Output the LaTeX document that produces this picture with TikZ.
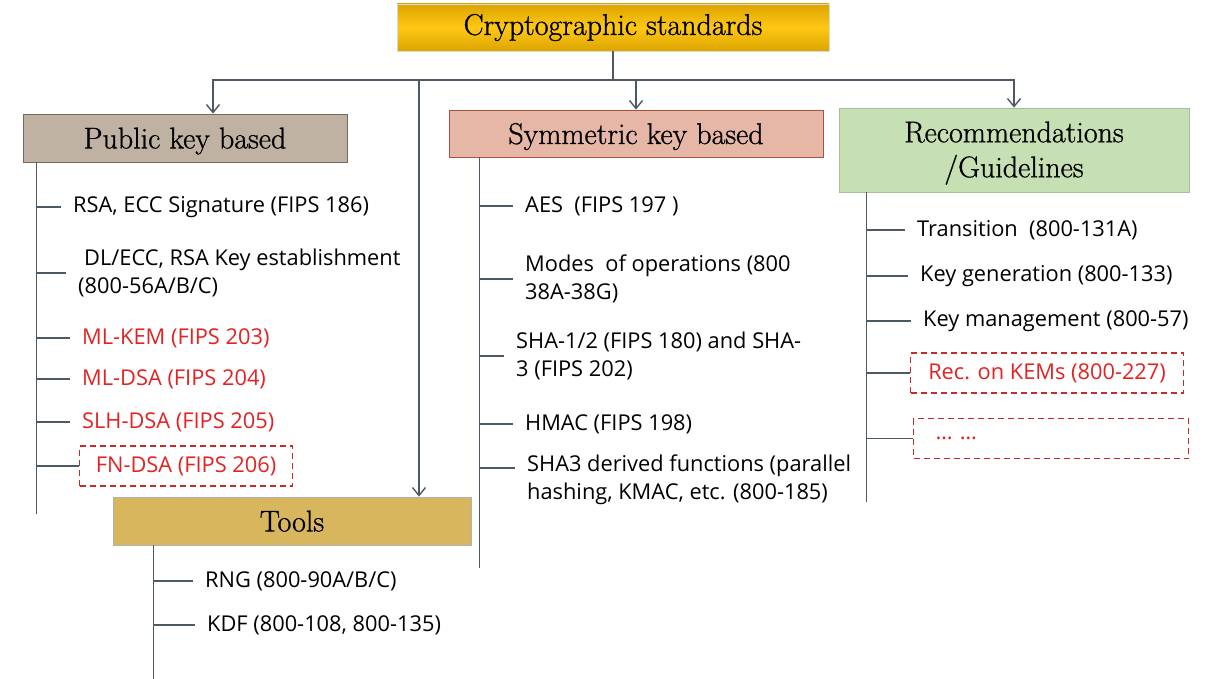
\documentclass[tikz,border=0pt]{standalone}
\usepackage{fontspec}
\newfontfamily\itemfont{Open Sans}
\newfontfamily\headfont{Latin Modern Roman}[FakeBold=0.9]
\usetikzlibrary{arrows.meta}

\definecolor{linegray}{HTML}{4D5A66}
\definecolor{gold}{HTML}{FFC814}
\definecolor{golddark}{HTML}{DCA400}
\definecolor{taupe}{HTML}{BFB2A2}
\definecolor{taupeline}{HTML}{76685A}
\definecolor{salmon}{HTML}{E6B7A7}
\definecolor{salmonline}{HTML}{A9503F}
\definecolor{sage}{HTML}{C6E0B3}
\definecolor{mustard}{HTML}{D8B65E}
\definecolor{itemred}{HTML}{E32222}
\definecolor{dashred}{HTML}{C42B2B}

\tikzset{
  catbox/.style={draw, line width=0.8pt, inner sep=0pt, align=center,
    font=\headfont\fontsize{30}{35}\selectfont},
  entry/.style={anchor=west, inner sep=0pt, align=left,
    font=\itemfont\fontsize{21.8}{27.5}\selectfont},
  newentry/.style={entry, text=itemred},
  dashbox/.style={newentry, draw=dashred, line width=1.1pt,
    dash pattern=on 6pt off 4pt, minimum height=40pt},
  link/.style={draw=linegray, line width=1.4pt},
  twig/.style={link, shorten >=12pt},
  branch/.style={link, -{Straight Barb[length=8pt,width=13pt]}},
}

\begin{document}
\begin{tikzpicture}[x=1pt,y=-1pt]
    \useasboundingbox (0,0) rectangle (1215,679);

    % category boxes
    \node[catbox, draw=black!15, top color=golddark, bottom color=golddark, middle color=gold,
          minimum width=432pt, minimum height=47pt] (top) at (613,27.5) {Cryptographic standards};
    \node[catbox, fill=taupe, draw=taupeline, text depth=0pt, minimum width=324pt, minimum height=48pt] (pub) at (185,138) {Public key based};
    \node[catbox, fill=salmon, draw=salmonline, text depth=0pt, minimum width=374pt, minimum height=47pt] (sym) at (636,133.5) {Symmetric key based};
    \node[catbox, fill=sage, draw=sage!85!black, minimum width=350pt, minimum height=84pt] (rec) at (1014,150) {\rule{0pt}{27pt}Recommendations\\/Guidelines};
    \node[catbox, fill=mustard, draw=black!30, text depth=0pt, minimum width=358pt, minimum height=48pt] (tools) at (292,521) {Tools};

    % top level branches
    \coordinate (split) at (613,80);
    \draw[link] (top.south) -- (split);
    \draw[branch] (split) -| ([xshift=28pt]pub.north);
    \draw[branch] (split) -| (sym.north);
    \draw[branch] (split) -| (rec.north);
    \draw[branch] (split) -| ([xshift=127pt]tools.north);

    % public key based
    \coordinate (pkbar) at ([xshift=14pt]pub.south west);
    \draw[link] (pkbar) -- ++(0,352);
    \node[entry] (rsa) at (73,207) {RSA, ECC Signature (FIPS 186)};
    \node[entry] (dl) at (78,273) {\hspace*{6pt}DL/ECC, RSA Key establishment\\(800-56A/B/C)};
    \node[newentry] (kem) at (82,338) {ML-KEM (FIPS 203)};
    \node[newentry] (dsa) at (82,379) {ML-DSA (FIPS 204)};
    \node[newentry] (slh) at (82,422) {SLH-DSA (FIPS 205)};
    \node[dashbox, minimum width=213pt] (fn) at (79,466) {FN-DSA (FIPS 206)};
    \foreach \n in {rsa,dl,kem,dsa,slh}
        \draw[twig] (pkbar |- \n.west) -- (\n.west);
    \draw[link] (pkbar |- fn.west) -- (fn.west);

    % symmetric key based
    \coordinate (skbar) at ([xshift=31pt]sym.south west);
    \draw[link] (skbar) -- ++(0,411);
    \node[entry] (aes) at (525,206) {AES~ (FIPS 197 )};
    \node[entry] (modes) at (525,279) {Modes~ of operations (800\\38A-38G)};
    \node[entry] (sha) at (516,356) {SHA-1/2 (FIPS 180) and SHA-\\3 (FIPS 202)};
    \node[entry] (hmac) at (525,424) {HMAC (FIPS 198)};
    \node[entry] (sha3) at (527,480) {SHA3 derived functions (parallel\\hashing, KMAC, etc. (800-185)};
    \foreach \n in {aes,modes,sha,hmac}
        \draw[twig] (skbar |- \n.west) -- (\n.west);
    \draw[twig] (skbar |- sha3.west) ++(0,-12) -- ([yshift=12pt]sha3.west);

    % recommendations
    \coordinate (rcbar) at ([xshift=28pt]rec.south west);
    \draw[link] (rcbar) -- ++(0,310);
    \node[entry] (trans) at (917,230) {Transition~ (800-131A)};
    \node[entry] (keygen) at (920,276) {Key generation (800-133)};
    \node[entry] (keymgmt) at (923,321) {Key management (800-57)};
    \node[dashbox, minimum width=273pt] (kems) at (910,373) {Rec. on KEMs (800-227)};
    \node[dashbox, text width=231pt, inner xsep=22pt] (more) at (913,438.5) {… …};
    \foreach \n in {trans,keygen,keymgmt}
        \draw[twig] (rcbar |- \n.west) -- (\n.west);
    \draw[link] (rcbar |- kems.west) -- (kems.west);
    \draw[link] (rcbar |- more.west) -- (more.west);

    % tools
    \coordinate (tlbar) at ([xshift=41pt]tools.south west);
    \draw[link] (tlbar) -- ++(0,134);
    \node[entry] (rng) at (205,581) {RNG (800-90A/B/C)};
    \node[entry] (kdf) at (207,625) {KDF (800-108, 800-135)};
    \foreach \n in {rng,kdf}
        \draw[twig] (tlbar |- \n.west) -- (\n.west);

\end{tikzpicture}
\end{document}
